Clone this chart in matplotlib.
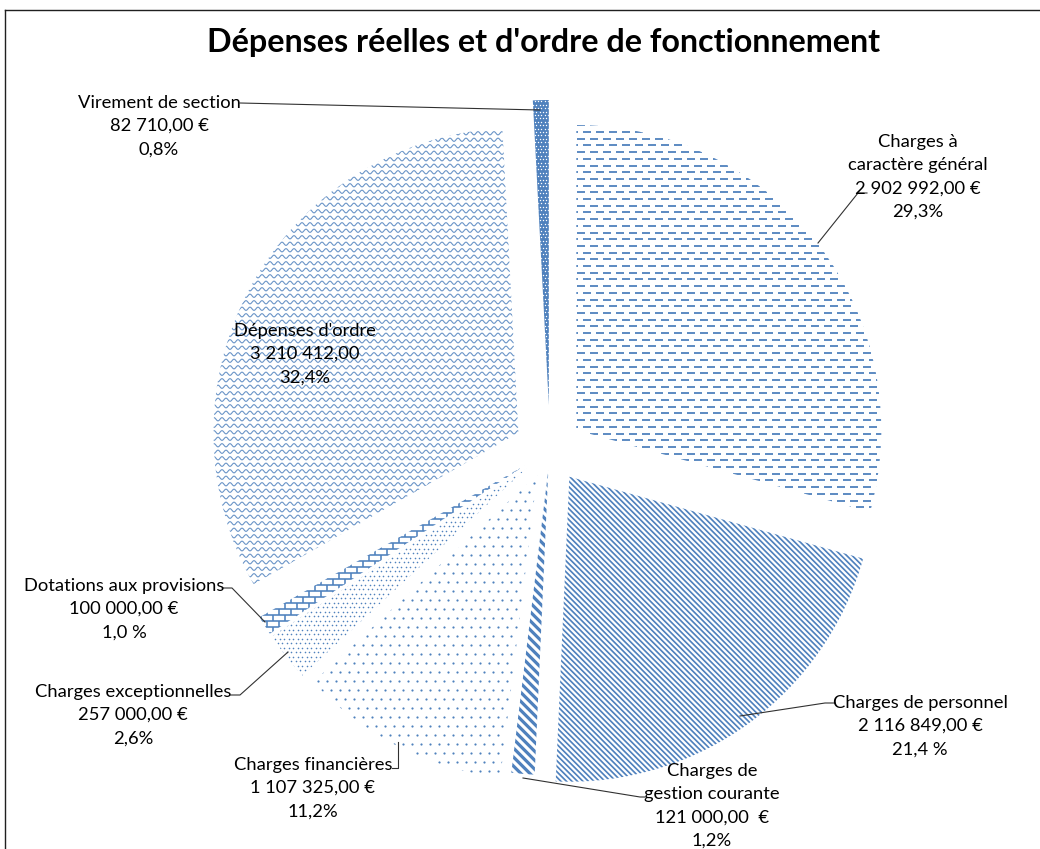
import numpy as np
import matplotlib
matplotlib.use('Agg')
import matplotlib.pyplot as plt
from matplotlib.collections import LineCollection

# data
categories = ['Charges à caractère général', 'Charges de personnel',
              'Charges de gestion courante', 'Charges financières',
              'Charges exceptionnelles', 'Dotations aux provisions',
              "Dépenses d'ordre", 'Virement de section']
amounts = [2902992.00, 2116849.00, 121000.00, 1107325.00,
           257000.00, 100000.00, 3210412.00, 82710.00]
label_texts = [
    'Charges à\ncaractère général\n2 902 992,00 €\n29,3%',
    'Charges de personnel\n2 116 849,00 €\n21,4 %',
    'Charges de\ngestion courante\n121 000,00  €\n1,2%',
    'Charges financières\n1 107 325,00 €\n11,2%',
    'Charges exceptionnelles\n257 000,00 €\n2,6%',
    'Dotations aux provisions\n100 000,00 €\n1,0 %',
    "Dépenses d'ordre\n3 210 412,00\n32,4%",
    'Virement de section\n82 710,00 €\n0,8%',
]
title = "Dépenses réelles et d'ordre de fonctionnement"

W, H = 1040, 849
BLUE = '#4F81BD'
PX = 0.72  # points per pixel at dpi 100

plt.rcParams['font.family'] = ['Lato', 'DejaVu Sans']


def Y(y):
    # screen pixel row -> data y
    return H - y


fig = plt.figure(figsize=(W / 100, H / 100), dpi=100)
ax = fig.add_axes([0, 0, 1, 1])

explode = [33, 33, 20, 28, 30, 30, 36, 45]
wedges, _ = ax.pie(amounts, explode=explode, startangle=90, counterclock=False,
                   radius=305, center=(550, Y(450)),
                   wedgeprops=dict(facecolor='none', edgecolor='none', linewidth=0))


def bbox(w):
    cx, cy = w.center
    r = w.r
    return cx - r, cx + r, cy - r, cy + r


def dashes(w, row=6.7, dlen=8, period=13, lw=1.8):
    x0, x1, y0, y1 = bbox(w)
    segs = []
    for k, y in enumerate(np.arange(y0, y1, row)):
        off = (k % 2) * period / 2
        for x in np.arange(x0 - period + off, x1, period):
            segs.append([(x, y), (x + dlen, y)])
    lc = LineCollection(segs, colors=BLUE, linewidths=lw * PX)
    ax.add_collection(lc)
    lc.set_clip_path(w)


def diag(w, period=5.5, lw=1.6):
    x0, x1, y0, y1 = bbox(w)
    segs = []
    for c in np.arange(x0 + y0, x1 + y1, period):
        segs.append([(x0, c - x0), (x1, c - x1)])
    lc = LineCollection(segs, colors=BLUE, linewidths=lw * PX)
    ax.add_collection(lc)
    lc.set_clip_path(w)


def dots(w, step=9, size=2.0, color=BLUE):
    x0, x1, y0, y1 = bbox(w)
    xs, ys = [], []
    for k, y in enumerate(np.arange(y0, y1, step)):
        off = (k % 2) * step / 2
        xr = np.arange(x0 + off, x1, step)
        xs.append(xr)
        ys.append(np.full_like(xr, y))
    sc = ax.scatter(np.concatenate(xs), np.concatenate(ys),
                    s=(size * PX) ** 2, c=color, marker='o', linewidths=0)
    sc.set_clip_path(w)


def waves(w, row=6.5, lam=8.0, amp=1.6, lw=1.1):
    x0, x1, y0, y1 = bbox(w)
    xs = np.arange(x0, x1, 0.5)
    segs = []
    for k, y in enumerate(np.arange(y0, y1, row)):
        ph = (k % 2) * np.pi
        segs.append(np.column_stack([xs, y + amp * np.sin(2 * np.pi * xs / lam + ph)]))
    lc = LineCollection(segs, colors=BLUE, linewidths=lw * PX, alpha=0.85)
    ax.add_collection(lc)
    lc.set_clip_path(w)


def bricks(w, h=6.0, bw=12.0, lw=1.6):
    x0, x1, y0, y1 = bbox(w)
    segs = []
    for k, y in enumerate(np.arange(y0, y1, h)):
        segs.append([(x0, y), (x1, y)])
        off = (k % 2) * bw / 2
        for x in np.arange(x0 + off, x1, bw):
            segs.append([(x, y), (x, y + h)])
    lc = LineCollection(segs, colors=BLUE, linewidths=lw * PX)
    ax.add_collection(lc)
    lc.set_clip_path(w)


dashes(wedges[0])
diag(wedges[1], period=5.5, lw=1.7)
diag(wedges[2], period=9, lw=3.2)
dots(wedges[3], step=9, size=2.2)
dots(wedges[4], step=4.5, size=1.6)
bricks(wedges[5])
waves(wedges[6])
wedges[7].set_facecolor(BLUE)
dots(wedges[7], step=3.4, size=1.4, color='white')

# labels (screen px: centre x, middle y)
label_pos = [(918, 177), (920, 726), (712, 806), (313, 788),
             (133, 715), (124, 609), (305, 354), (159, 126)]
for txt, (lx, ly) in zip(label_texts, label_pos):
    ax.text(lx, Y(ly), txt, ha='center', va='center', fontsize=13.2,
            linespacing=1.55, color='black')

# leader lines (screen px)
leaders = [
    [(867, 193), (858, 193), (818, 243)],
    [(835, 703), (825, 703), (740, 716)],
    [(645, 797), (640, 797), (523, 778)],
    [(392, 768), (398, 768), (398, 742)],
    [(230, 695), (240, 695), (288, 652)],
    [(222, 588), (232, 588), (265, 622)],
    [(240, 103), (540, 110)],
]
for pts in leaders:
    xs = [p[0] for p in pts]
    ys = [Y(p[1]) for p in pts]
    ax.plot(xs, ys, color='#303030', lw=1.1 * PX)

ax.text(544, Y(42), title, ha='center', va='center', fontsize=23.2,
        fontweight='bold', color='black')

# chart frame (cut at right and bottom)
ax.plot([5, W + 5], [Y(10), Y(10)], color='#202020', lw=1.4 * PX, clip_on=False)
ax.plot([5, 5], [Y(10), -5], color='#202020', lw=1.4 * PX, clip_on=False)

ax.set_xlim(0, W)
ax.set_ylim(0, H)
ax.set_aspect('auto')
ax.axis('off')

fig.savefig('out.png', dpi=100)
